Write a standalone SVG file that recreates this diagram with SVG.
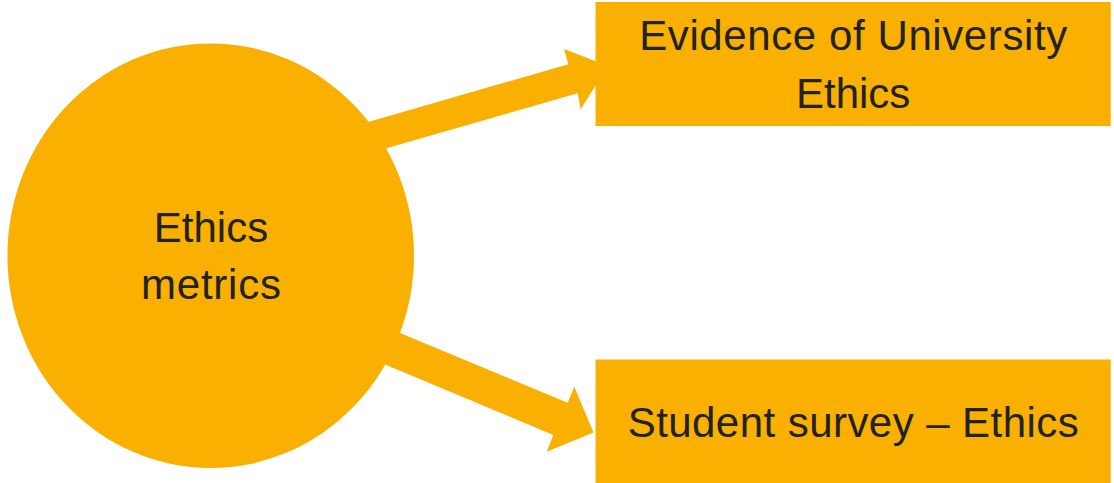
<svg xmlns="http://www.w3.org/2000/svg" width="1114" height="483" viewBox="0 0 1114 483">
<style>
.fill{fill:#F9B000;}
.lbl{font-family:"Liberation Sans",Arial,sans-serif;font-size:42px;fill:#222222;text-anchor:middle;}
</style>
<rect x="0" y="0" width="1114" height="483" fill="#ffffff"/>
<g id="connectors">
<polygon class="fill" points="330,133 568.3,64.3 564,49 608,66 580.7,109.3 577.7,93.3 348,159.3"/>
<polygon class="fill" points="364,318 567.7,402.7 574.3,386.7 593.5,432.5 546.7,451.7 553.3,435 348,349"/>
</g>
<g id="node-ethics-metrics">
<ellipse class="fill" cx="210.7" cy="255.7" rx="203.3" ry="212.3"/>
<text class="lbl" x="211" y="241.5">Ethics</text>
<text class="lbl" x="211" y="299" textLength="140" lengthAdjust="spacing">metrics</text>
</g>
<g id="node-evidence">
<rect class="fill" x="595.5" y="2" width="515.2" height="124"/>
<text class="lbl" x="853.2" y="50" textLength="428" lengthAdjust="spacing">Evidence of University</text>
<text class="lbl" x="853.2" y="108.3">Ethics</text>
</g>
<g id="node-survey">
<rect class="fill" x="595.5" y="359.5" width="515.2" height="124"/>
<text class="lbl" x="853.2" y="437.3" textLength="451" lengthAdjust="spacing">Student survey – Ethics</text>
</g>
</svg>
